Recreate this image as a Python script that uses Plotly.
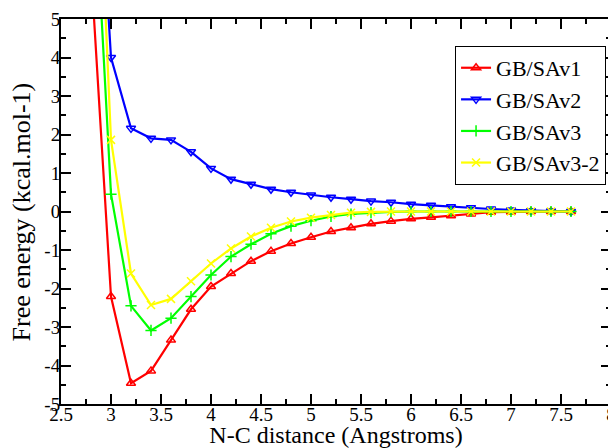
import plotly.graph_objects as go

x = [2.8, 3.0, 3.2, 3.4, 3.6, 3.8, 4.0, 4.2, 4.4, 4.6, 4.8, 5.0, 5.2, 5.4, 5.6,
     5.8, 6.0, 6.2, 6.4, 6.6, 6.8, 7.0, 7.2, 7.4, 7.6]

gbsa_v1 = [6.3, -2.21, -4.46, -4.14, -3.34, -2.54, -1.95, -1.61, -1.29, -1.03,
           -0.83, -0.67, -0.52, -0.42, -0.32, -0.25, -0.19, -0.15, -0.11, -0.065,
           -0.02, -0.01, 0.0, 0.0, 0.0]
gbsa_v2 = [12.6, 4.0, 2.16, 1.90, 1.86, 1.55, 1.12, 0.84, 0.71, 0.58,
           0.50, 0.43, 0.37, 0.32, 0.27, 0.24, 0.19, 0.16, 0.125, 0.10,
           0.065, 0.04, 0.02, 0.01, 0.0]
gbsa_v3 = [10.2, 0.45, -2.45, -3.09, -2.77, -2.21, -1.65, -1.17, -0.85, -0.58,
           -0.38, -0.24, -0.13, -0.065, -0.03, -0.01, 0.0, 0.0, 0.0, 0.0,
           0.0, 0.0, 0.0, 0.0, 0.0]
gbsa_v3_2 = [13.7, 1.86, -1.61, -2.43, -2.27, -1.81, -1.35, -0.96, -0.65, -0.42,
             -0.26, -0.16, -0.09, -0.03, -0.01, 0.0, 0.0, 0.0, 0.0, 0.0,
             0.0, 0.0, 0.0, 0.0, 0.0]

x_tickvals = [2.5, 3, 3.5, 4, 4.5, 5, 5.5, 6, 6.5, 7, 7.5, 8]
x_ticktext = ["2.5", "3", "3.5", "4", "4.5", "5", "5.5", "6", "6.5", "7", "7.5", "8"]
y_tickvals = [-5, -4, -3, -2, -1, 0, 1, 2, 3, 4, 5]
y_ticktext = ["-5", "-4", "-3", "-2", "-1", "0", "1", "2", "3", "4", "5"]

x_title = "N-C distance (Angstroms)"
y_title = "Free energy (kcal.mol-1)"

series = [
    ("GB/SAv1", gbsa_v1, "#ff0000", "triangle-up-open"),
    ("GB/SAv2", gbsa_v2, "#0000ff", "triangle-down-open"),
    ("GB/SAv3", gbsa_v3, "#00ff00", "cross-thin-open"),
    ("GB/SAv3-2", gbsa_v3_2, "#ffff00", "x-thin-open"),
]

fig = go.Figure()
for name, ys, col, sym in series:
    fig.add_trace(go.Scatter(
        x=x, y=ys, name=name, mode="lines+markers",
        line=dict(color=col, width=2.2),
        marker=dict(symbol=sym, size=8, color=col, line=dict(color=col, width=1.5)),
        cliponaxis=True,
    ))

font_family = "Liberation Serif"
axis_common = dict(
    showgrid=False, zeroline=False, showline=True, linecolor="black", linewidth=2,
    mirror="allticks", ticks="inside", ticklen=10, tickwidth=1.5, tickcolor="black",
    tickfont=dict(family=font_family, size=19, color="black"),
    automargin=False,
)

fig.update_layout(
    width=608, height=440,
    margin=dict(l=53, r=5, t=11, b=44),
    paper_bgcolor="white", plot_bgcolor="white",
    font=dict(family=font_family, color="black"),
    xaxis=dict(range=[2.5, 8], tickmode="array", tickvals=x_tickvals, ticktext=x_ticktext,
               ticklabelstandoff=-8,
               minor=dict(ticks="inside", ticklen=5, dtick=0.25, tickcolor="black", tickwidth=1.5),
               title=dict(text=x_title, font=dict(family=font_family, size=24), standoff=0),
               **axis_common),
    yaxis=dict(range=[-5, 5], tickmode="array", tickvals=y_tickvals, ticktext=y_ticktext,
               ticklabelstandoff=-5,
               minor=dict(ticks="inside", ticklen=5, dtick=0.5, tickcolor="black", tickwidth=1.5),
               **axis_common),
    legend=dict(x=0.991, y=0.93, xanchor="right", yanchor="top",
                bgcolor="white", bordercolor="black", borderwidth=1,
                font=dict(family=font_family, size=22, color="black"),
                tracegroupgap=0, itemwidth=30),
    showlegend=True,
    annotations=[dict(
        text=y_title, textangle=-90, showarrow=False,
        xref="paper", yref="paper", x=-0.071, y=0.5,
        xanchor="center", yanchor="middle",
        font=dict(family=font_family, size=26, color="black"),
    )],
)

fig.write_html("out.html")
